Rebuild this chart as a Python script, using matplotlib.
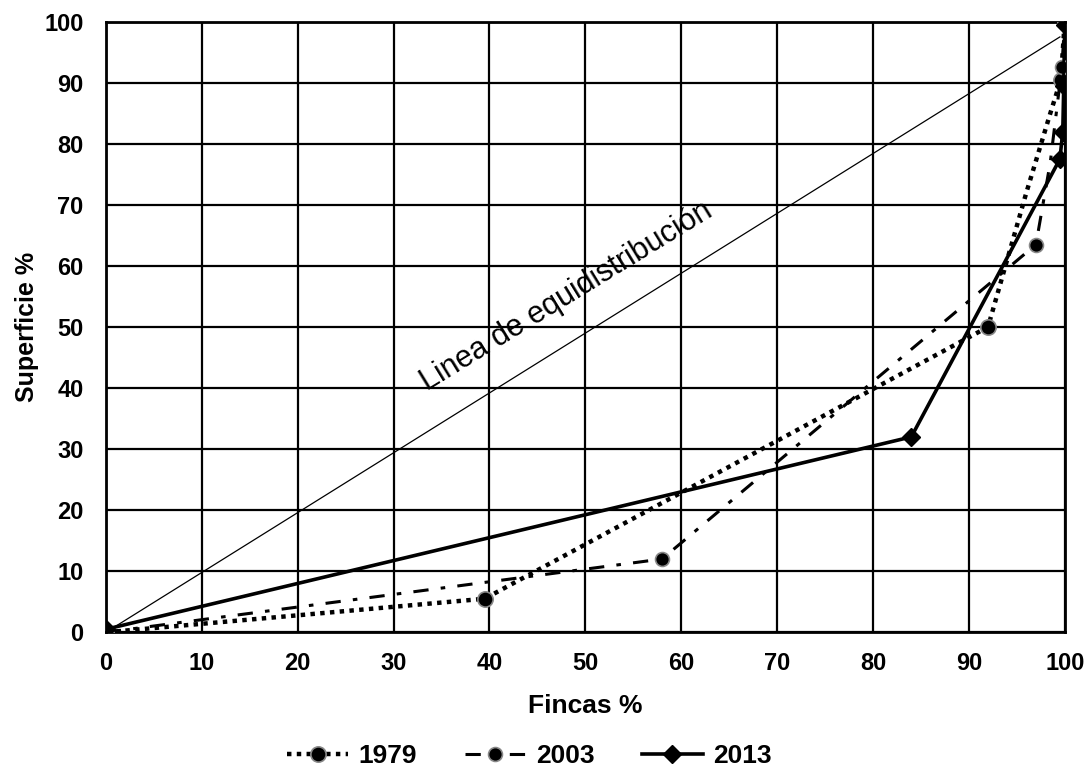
import matplotlib.pyplot as plt

plt.rcParams['font.family'] = ['Liberation Sans', 'DejaVu Sans']

# datos
x1979 = [0, 39.5, 92, 96, 98.5, 99.6, 100]
y1979 = [0, 5.5, 50, 72, 85, 90.5, 100]
x2003 = [0, 58, 97, 98.5, 99.7, 100]
y2003 = [0, 12, 63.5, 77, 92.5, 100]
x2013 = [0, 84, 99.5, 99.8, 99.9, 100]
y2013 = [0.5, 32, 77.5, 82, 89.5, 99.5]
xeq = [0, 99.5]
yeq = [0, 97.5]
ticks = list(range(0, 101, 10))

fig = plt.figure(figsize=(10.92, 7.73), dpi=100)
ax = fig.add_axes([0.097, 0.182, 0.878, 0.79])

ax.plot(xeq, yeq, color='black', lw=0.9, zorder=2)
ax.plot(x1979, y1979, color='black', ls=(0, (1, 1.2)), lw=3.2, marker='o', ms=11,
        markevery=[0, 1, 2, 5, 6], markeredgecolor='#888888', markeredgewidth=1.2,
        label='1979', zorder=3)
ax.plot(x2003, y2003, color='black', ls=(0, (5, 4, 1.5, 4)), lw=2.2, marker='o', ms=10,
        markevery=[0, 1, 2, 4, 5], markeredgecolor='#888888', markeredgewidth=1.2,
        label='2003', zorder=3)
ax.plot(x2013, y2013, color='black', ls='-', lw=2.6, marker='D', ms=9,
        label='2013', zorder=4)

ax.text(48, 55, 'Linea de equidistribución', rotation=31.5, fontsize=22,
        ha='center', va='center', color='black')

ax.set_xlim(0, 100)
ax.set_ylim(0, 100)
ax.set_xticks(ticks)
ax.set_yticks(ticks)
ax.grid(True, color='black', lw=1.6)
ax.set_axisbelow(True)
for s in ax.spines.values():
    s.set_linewidth(2)
ax.tick_params(length=0, labelsize=17)
ax.tick_params(axis='x', pad=14)
ax.tick_params(axis='y', pad=16)
for lab in ax.get_xticklabels() + ax.get_yticklabels():
    lab.set_fontweight('bold')

ax.set_xlabel('Fincas %', fontsize=19, fontweight='bold', labelpad=14)
ax.set_ylabel('Superficie %', fontsize=18, fontweight='bold', labelpad=4)

leg = fig.legend(loc='lower center', bbox_to_anchor=(0.485, -0.024), ncol=3, frameon=False,
                 prop={'weight': 'bold', 'size': 19}, columnspacing=1.8, handlelength=2.3,
                 handletextpad=0.4)

fig.savefig('out.png', dpi=100)
